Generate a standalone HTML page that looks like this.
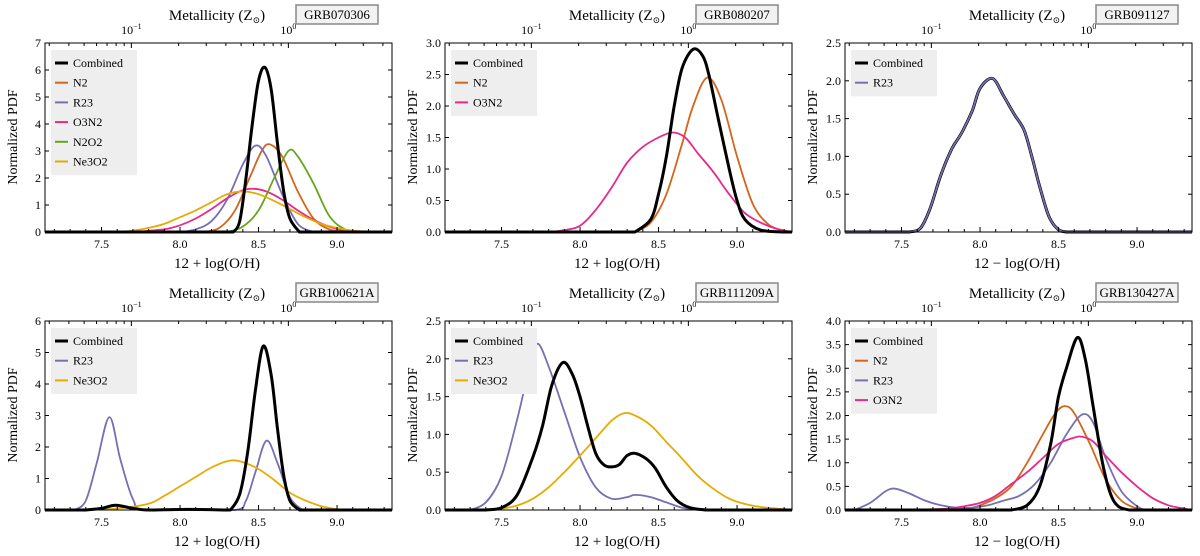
<!DOCTYPE html>
<html><head><meta charset="utf-8"><style>
html,body{margin:0;padding:0;background:#fff;}
svg{display:block;font-family:"Liberation Serif","DejaVu Serif",serif;}
</style></head><body>
<svg id="fig" width="1200" height="556" viewBox="0 0 1200 556"></svg>
<script>
// ---- data ----
const panelNames = ["GRB070306","GRB080207","GRB091127","GRB100621A","GRB111209A","GRB130427A"];
const yMaxes = [7,3,2.5,6,2.5,4];
const yTickLabels = [["0","1","2","3","4","5","6","7"],["0.0","0.5","1.0","1.5","2.0","2.5","3.0"],["0.0","0.5","1.0","1.5","2.0","2.5"],["0","1","2","3","4","5","6"],["0.0","0.5","1.0","1.5","2.0","2.5"],["0.0","0.5","1.0","1.5","2.0","2.5","3.0","3.5","4.0"]];
const yTickValues = [[0,1,2,3,4,5,6,7],[0,0.5,1,1.5,2,2.5,3],[0,0.5,1,1.5,2,2.5],[0,1,2,3,4,5,6],[0,0.5,1,1.5,2,2.5],[0,0.5,1,1.5,2,2.5,3,3.5,4]];
const xTickValues = [7.5,8.0,8.5,9.0];
const xTickLabels = ["7.5","8.0","8.5","9.0"];
const xLabels = ["12 + log(O/H)","12 + log(O/H)","12 − log(O/H)","12 + log(O/H)","12 + log(O/H)","12 − log(O/H)"];

// P1 GRB070306
const p1CombX=[8.34,8.38,8.42,8.46,8.5,8.54,8.58,8.62,8.66,8.7,8.76];
const p1CombY=[0,0.4,2.0,4.0,5.6,6.1,5.3,3.3,1.5,0.5,0];
const p1N2X=[8.15,8.25,8.35,8.45,8.52,8.57,8.65,8.75,8.85,8.95,9.05];
const p1N2Y=[0,0.15,0.8,2.1,3.0,3.25,2.8,1.5,0.5,0.1,0];
const p1R23X=[8.0,8.1,8.2,8.3,8.4,8.48,8.55,8.65,8.75,8.85];
const p1R23Y=[0,0.1,0.4,1.2,2.5,3.2,2.8,1.4,0.3,0];
const p1O3N2X=[7.7,7.9,8.0,8.1,8.2,8.3,8.4,8.47,8.55,8.65,8.75,8.85,8.95,9.05,9.15];
const p1O3N2Y=[0,0.1,0.25,0.5,0.85,1.25,1.55,1.6,1.5,1.2,0.8,0.45,0.2,0.05,0];
const p1N2O2X=[8.3,8.4,8.5,8.6,8.69,8.75,8.85,8.95,9.05,9.15];
const p1N2O2Y=[0,0.2,0.8,2.0,3.0,2.8,1.8,0.6,0.1,0];
const p1Ne3O2X=[7.6,7.7,7.8,7.9,8.0,8.1,8.2,8.3,8.4,8.5,8.6,8.7,8.8,8.9,9.0,9.1,9.25];
const p1Ne3O2Y=[0,0.05,0.15,0.3,0.55,0.8,1.1,1.4,1.5,1.4,1.15,0.85,0.55,0.3,0.15,0.05,0];
// P2 GRB080207
const p2CombX=[8.35,8.45,8.5,8.55,8.6,8.65,8.72,8.78,8.82,8.88,8.95,9.0,9.05,9.15,9.3];
const p2CombY=[0,0.2,0.6,1.2,2.0,2.6,2.9,2.8,2.5,1.8,1.0,0.5,0.2,0.03,0];
const p2N2X=[8.35,8.45,8.55,8.65,8.72,8.81,8.9,9.0,9.1,9.2,9.3,9.35];
const p2N2Y=[0,0.15,0.6,1.4,2.0,2.45,2.1,1.2,0.45,0.12,0.02,0];
const p2O3N2X=[7.8,7.9,8.0,8.1,8.2,8.3,8.4,8.5,8.59,8.67,8.75,8.85,8.95,9.05,9.15,9.25,9.35];
const p2O3N2Y=[0,0.03,0.1,0.35,0.7,1.1,1.35,1.5,1.58,1.5,1.25,0.95,0.6,0.3,0.15,0.05,0];
// P3 GRB091127
const p3R23X=[7.55,7.62,7.68,7.75,7.82,7.88,7.95,8.0,8.08,8.15,8.22,8.28,8.33,8.38,8.44,8.5,8.55];
const p3R23Y=[0,0.05,0.3,0.75,1.1,1.3,1.6,1.9,2.03,1.8,1.55,1.35,1.0,0.6,0.2,0.03,0];
// P4 GRB100621A
const p4CombX=[7.4,7.5,7.59,7.7,7.8,8.05,8.3,8.32,8.38,8.43,8.48,8.53,8.58,8.62,8.66,8.7,8.76];
const p4CombY=[0,0.05,0.15,0.05,0,0.02,0,0,0.5,1.8,3.8,5.2,4.3,2.6,1.1,0.3,0];
const p4R23X=[7.33,7.4,7.47,7.55,7.62,7.7,7.78,8.35,8.42,8.48,8.55,8.62,8.7,8.78];
const p4R23Y=[0,0.3,1.5,2.95,1.6,0.35,0,0,0.3,1.2,2.2,1.5,0.4,0];
const p4Ne3O2X=[7.4,7.6,7.8,7.9,8.0,8.1,8.2,8.3,8.38,8.5,8.6,8.7,8.8,8.9,9.0,9.1];
const p4Ne3O2Y=[0,0.05,0.2,0.45,0.75,1.05,1.35,1.55,1.55,1.3,0.95,0.55,0.3,0.12,0.03,0];
// P5 GRB111209A
const p5CombX=[7.4,7.5,7.6,7.7,7.76,7.82,7.89,7.95,8.0,8.05,8.1,8.15,8.2,8.25,8.3,8.35,8.42,8.48,8.55,8.62,8.7,8.8];
const p5CombY=[0,0.03,0.2,0.7,1.1,1.65,1.95,1.8,1.5,1.1,0.75,0.6,0.57,0.6,0.72,0.75,0.68,0.55,0.3,0.12,0.03,0];
const p5R23X=[7.3,7.4,7.5,7.6,7.68,7.73,7.8,7.9,8.0,8.1,8.2,8.3,8.35,8.45,8.55,8.65,8.75];
const p5R23Y=[0,0.1,0.45,1.2,1.9,2.2,1.9,1.3,0.7,0.3,0.15,0.17,0.2,0.17,0.1,0.03,0];
const p5Ne3O2X=[7.3,7.5,7.6,7.7,7.8,7.9,8.0,8.1,8.2,8.28,8.35,8.45,8.55,8.65,8.75,8.85,8.95,9.05,9.15,9.3];
const p5Ne3O2Y=[0,0.02,0.06,0.15,0.3,0.5,0.72,0.95,1.18,1.28,1.25,1.12,0.9,0.68,0.45,0.28,0.15,0.08,0.04,0.01];
// P6 GRB130427A
const p6CombX=[8.2,8.3,8.38,8.45,8.5,8.55,8.62,8.67,8.72,8.78,8.83,8.88,8.95];
const p6CombY=[0,0.1,0.5,1.4,2.4,3.0,3.65,3.2,2.2,1.0,0.35,0.08,0];
const p6N2X=[7.9,8.0,8.1,8.2,8.3,8.4,8.48,8.54,8.6,8.7,8.8,8.9,9.0,9.05];
const p6N2Y=[0,0.1,0.25,0.5,1.0,1.6,2.05,2.2,2.05,1.4,0.65,0.2,0.03,0];
const p6R23X=[7.2,7.3,7.4,7.46,7.55,7.65,7.75,7.85,7.95,8.05,8.15,8.25,8.35,8.45,8.55,8.65,8.72,8.8,8.9,9.0,9.05];
const p6R23Y=[0,0.15,0.4,0.45,0.35,0.2,0.1,0.05,0.05,0.1,0.2,0.3,0.55,1.0,1.6,2.02,1.85,1.1,0.4,0.08,0];
const p6O3N2X=[7.2,7.6,7.8,7.9,8.0,8.1,8.2,8.3,8.4,8.5,8.6,8.65,8.72,8.8,8.9,9.0,9.1,9.2,9.3,9.35];
const p6O3N2Y=[0,0.01,0.03,0.08,0.15,0.3,0.55,0.8,1.1,1.4,1.53,1.55,1.45,1.15,0.8,0.5,0.25,0.1,0.03,0];

const COL={Combined:"#000",N2:"#d4651a",R23:"#7570b3",O3N2:"#e7298a",N2O2:"#66a61e",Ne3O2:"#e6ab02"};
const panelSeries=[
 [["Combined",p1CombX,p1CombY],["N2",p1N2X,p1N2Y],["R23",p1R23X,p1R23Y],["O3N2",p1O3N2X,p1O3N2Y],["N2O2",p1N2O2X,p1N2O2Y],["Ne3O2",p1Ne3O2X,p1Ne3O2Y]],
 [["Combined",p2CombX,p2CombY],["N2",p2N2X,p2N2Y],["O3N2",p2O3N2X,p2O3N2Y]],
 [["Combined",p3R23X,p3R23Y],["R23",p3R23X,p3R23Y]],
 [["Combined",p4CombX,p4CombY],["R23",p4R23X,p4R23Y],["Ne3O2",p4Ne3O2X,p4Ne3O2Y]],
 [["Combined",p5CombX,p5CombY],["R23",p5R23X,p5R23Y],["Ne3O2",p5Ne3O2X,p5Ne3O2Y]],
 [["Combined",p6CombX,p6CombY],["N2",p6N2X,p6N2Y],["R23",p6R23X,p6R23Y],["O3N2",p6O3N2X,p6O3N2Y]]
];

const NS="http://www.w3.org/2000/svg";
const fig=document.getElementById('fig');
function mk(tag,attrs,parent,txt){const e=document.createElementNS(NS,tag);for(const k in attrs)e.setAttribute(k,attrs[k]);if(txt!==undefined)e.textContent=txt;(parent||fig).appendChild(e);return e;}
const X0=7.14,X1=9.35,L=45,R=392,T=43,B=232,SOLAR=8.69;
function smoothPath(pts,x0,x1,yb){
 let d="M"+x0.toFixed(1)+","+yb.toFixed(1)+" L"+pts[0][0].toFixed(1)+","+pts[0][1].toFixed(1);
 for(let i=0;i<pts.length-1;i++){const p0=pts[Math.max(0,i-1)],p1=pts[i],p2=pts[i+1],p3=pts[Math.min(pts.length-1,i+2)];
  const c1=[p1[0]+(p2[0]-p0[0])/6,p1[1]+(p2[1]-p0[1])/6],c2=[p2[0]-(p3[0]-p1[0])/6,p2[1]-(p3[1]-p1[1])/6];
  c1[0]=Math.min(Math.max(c1[0],p1[0]),p2[0]);c2[0]=Math.min(Math.max(c2[0],p1[0]),p2[0]);
  c1[1]=Math.min(c1[1],yb);c2[1]=Math.min(c2[1],yb);
  d+=" C"+c1[0].toFixed(1)+","+c1[1].toFixed(1)+" "+c2[0].toFixed(1)+","+c2[1].toFixed(1)+" "+p2[0].toFixed(1)+","+p2[1].toFixed(1);}
 const last=pts[pts.length-1];
 if(last[0]<x1) d+=" L"+x1.toFixed(1)+","+yb.toFixed(1);
 return d;}
panelNames.forEach((name,pi)=>{
 const ox=(pi%3)*400, oy=Math.floor(pi/3)*278;
 const g=mk('g',{});
 
 
 const xs=v=>ox+L+(v-X0)/(X1-X0)*(R-L);
 const ys=v=>oy+B-v/yMaxes[pi]*(B-T);
 // curves (Combined drawn first for GRB091127 so R23 is visible on top)
 const cg=mk('g',{},g);
 let order=panelSeries[pi].slice(1).concat([panelSeries[pi][0]]);
 if(pi===2) order=panelSeries[pi].slice();
 order.forEach(([lab,X,Y])=>{
  const pts=[];
  X.forEach((v,i)=>{if(v>=X0&&v<=X1)pts.push([xs(v),ys(Y[i])]);});
  const p=mk('path',{d:smoothPath(pts,xs(X0),xs(X1),ys(0)),fill:'none',stroke:COL[lab],'stroke-width':lab==="Combined"?3:1.8,'stroke-linejoin':'round'},cg);
  
  
 });
 // frame
 const fr=mk('rect',{x:ox+L,y:oy+T,width:R-L,height:B-T,fill:'none',stroke:'#000','stroke-width':1},g);
 
 
 // y ticks
 yTickValues[pi].forEach((v,i)=>{
  mk('line',{x1:ox+L,x2:ox+L+4,y1:ys(v),y2:ys(v),stroke:'#000'},g);
  mk('line',{x1:ox+R,x2:ox+R-4,y1:ys(v),y2:ys(v),stroke:'#000'},g);
  const t=mk('text',{x:ox+L-4,y:ys(v)+4,'text-anchor':'end','font-size':12},g,yTickLabels[pi][i]);
  
  
 });
 // x ticks
 for(let k=72;k<=93;k++){const v=k/10;const major=(k%5===0);
  mk('line',{x1:xs(v),x2:xs(v),y1:oy+B,y2:oy+B-(major?5:3),stroke:'#000'},g);}
 xTickValues.forEach((v,i)=>{
  const t=mk('text',{x:xs(v),y:oy+B+16,'text-anchor':'middle','font-size':12},g,xTickLabels[i]);
  
  
 });
 // top log ticks
 [0.03,0.04,0.05,0.06,0.07,0.08,0.09,0.1,0.2,0.3,0.4,0.5,0.6,0.7,0.8,0.9,1,2,3,4].forEach(z=>{
  const v=SOLAR+Math.log10(z); if(v<X0||v>X1)return;
  const major=(z===0.1||z===1);
  mk('line',{x1:xs(v),x2:xs(v),y1:oy+T,y2:oy+T+(major?5:3),stroke:'#000'},g);
 });
 [["10","−1",0.1],["10","0",1]].forEach(([b,e,z])=>{
  const t=mk('text',{x:xs(SOLAR+Math.log10(z)),y:oy+T-9,'text-anchor':'middle','font-size':12},g);
  
  
  mk('tspan',{},t,b);mk('tspan',{dy:-5,'font-size':8},t,e);
 });
 const tt=mk('text',{x:ox+217,y:oy+20,'text-anchor':'middle','font-size':15},g);
 
 
 mk('tspan',{},tt,'Metallicity (Z');mk('tspan',{dy:3,'font-size':9},tt,'⊙');mk('tspan',{dy:-3},tt,')');
 const nb=mk('rect',{x:ox+296,y:oy+5,width:82,height:19,fill:'#f2f2f2',stroke:'#888','stroke-width':1.5},g);
 
 
 const nt=mk('text',{x:ox+337,y:oy+19,'text-anchor':'middle','font-size':13},g,name);
 
 
 const xl=mk('text',{x:ox+217,y:oy+268,'text-anchor':'middle','font-size':15},g,xLabels[pi]);
 
 
 const yl=mk('text',{x:0,y:0,'text-anchor':'middle','font-size':14,transform:`translate(${ox+17},${oy+137}) rotate(-90)`},g,'Normalized PDF');
 
 
 // legend
 const n=panelSeries[pi].length;
 const lg=mk('g',{},g);
 
 
 mk('rect',{x:ox+51,y:oy+50,width:86,height:n*19.7+7,fill:'#eeeeee'},lg);
 panelSeries[pi].forEach(([lab],i)=>{
  const yy=oy+63+i*19.7;
  const e=mk('g',{},lg);
  
  
  mk('line',{x1:ox+55,x2:ox+68,y1:yy,y2:yy,stroke:COL[lab],'stroke-width':lab==="Combined"?3:2},e);
  mk('text',{x:ox+73,y:yy+4,'font-size':12},e,lab);
 });
});
</script>
</body></html>
